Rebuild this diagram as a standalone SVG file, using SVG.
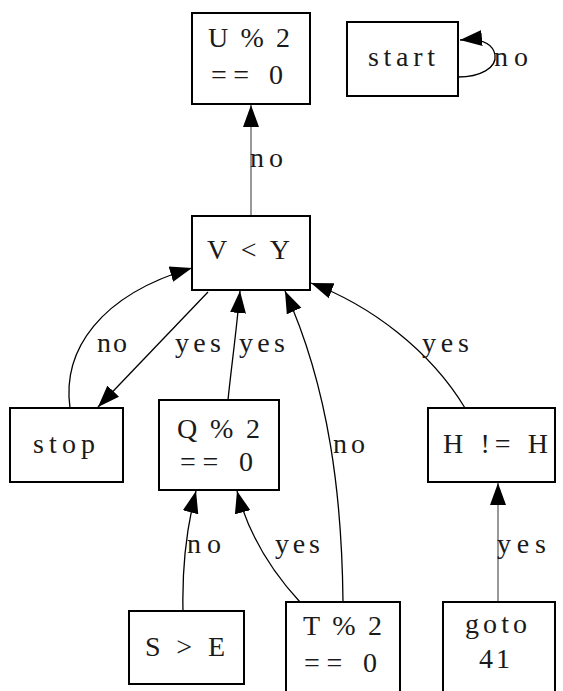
<svg xmlns="http://www.w3.org/2000/svg" width="563" height="691" viewBox="0 0 563 691">
<style>
.box{fill:#fff;stroke:#000;stroke-width:2}
.t{font-family:"Liberation Serif","Times New Roman",serif;font-size:28px;fill:#1a1a1a;text-anchor:middle}
.e{fill:none;stroke:#000;stroke-width:1.3}
.g{fill:none;stroke:#999;stroke-width:2}
</style>
<defs>
<marker id="ah" markerUnits="userSpaceOnUse" markerWidth="24" markerHeight="18" refX="22" refY="9" orient="auto" viewBox="0 0 24 18">
<path d="M0,1 L22,9 L0,17 z" fill="#000"/>
</marker>
</defs>
<rect x="0" y="0" width="563" height="691" fill="#fff"/>
<g id="edges">
<path class="g" d="M251,216 L251,105" marker-end="url(#ah)"/>
<text class="t" x="266.5" y="167" textLength="33" lengthAdjust="spacing">no</text>
<path class="e" d="M458,77 C480,77 497,68 495,55 C493,44 483,38 460,40" marker-end="url(#ah)"/>
<text class="t" x="511" y="66" textLength="34" lengthAdjust="spacing">no</text>
<path class="e" d="M70,408 C62,350 100,295 192,268" marker-end="url(#ah)"/>
<text class="t" x="112" y="352" textLength="30" lengthAdjust="spacing">no</text>
<path class="e" d="M208,292 L98,407" marker-end="url(#ah)"/>
<text class="t" x="198" y="352" textLength="46" lengthAdjust="spacing">yes</text>
<path class="e" d="M228,400 C231,370 236,335 240,291" marker-end="url(#ah)"/>
<text class="t" x="262" y="352" textLength="46" lengthAdjust="spacing">yes</text>
<path class="e" d="M343,602 C342,500 330,390 285,291" marker-end="url(#ah)"/>
<text class="t" x="349" y="453" textLength="32" lengthAdjust="spacing">no</text>
<path class="e" d="M465,408 C430,350 370,305 311,283" marker-end="url(#ah)"/>
<text class="t" x="445.5" y="352" textLength="47" lengthAdjust="spacing">yes</text>
<path class="e" d="M183,611 C182,570 186,530 196,491" marker-end="url(#ah)"/>
<text class="t" x="204" y="553" textLength="34" lengthAdjust="spacing">no</text>
<path class="e" d="M300,602 C275,575 250,540 237,491" marker-end="url(#ah)"/>
<text class="t" x="297.5" y="553" textLength="45" lengthAdjust="spacing">yes</text>
<path class="g" d="M498,602 L498,483" marker-end="url(#ah)"/>
<text class="t" x="521.5" y="553" textLength="49" lengthAdjust="spacing">yes</text>
</g>
<g id="U">
<rect class="box" x="192" y="13" width="118" height="91"/>
<text class="t" x="249" y="47" textLength="82" lengthAdjust="spacing">U % 2</text>
<text class="t" x="247" y="84" textLength="72" lengthAdjust="spacing">== 0</text>
</g>
<g id="start">
<rect class="box" x="347" y="22" width="111" height="74"/>
<text class="t" x="401.5" y="66" textLength="67" lengthAdjust="spacing">start</text>
</g>
<g id="V">
<rect class="box" x="192" y="216" width="118" height="74"/>
<text class="t" x="248.5" y="259" textLength="83" lengthAdjust="spacing">V &lt; Y</text>
</g>
<g id="stop">
<rect class="box" x="10" y="408" width="113" height="74"/>
<text class="t" x="64" y="453" textLength="62" lengthAdjust="spacing">stop</text>
</g>
<g id="Q">
<rect class="box" x="159" y="400" width="120" height="90"/>
<text class="t" x="218.5" y="438" textLength="83" lengthAdjust="spacing">Q % 2</text>
<text class="t" x="216.5" y="471" textLength="73" lengthAdjust="spacing">== 0</text>
</g>
<g id="H">
<rect class="box" x="428" y="408" width="127" height="74"/>
<text class="t" x="495.5" y="453" textLength="105" lengthAdjust="spacing">H != H</text>
</g>
<g id="S">
<rect class="box" x="129" y="611" width="115" height="73"/>
<text class="t" x="185" y="656" textLength="80" lengthAdjust="spacing">S &gt; E</text>
</g>
<g id="T">
<rect class="box" x="286" y="602" width="114" height="100"/>
<text class="t" x="342.5" y="635" textLength="79" lengthAdjust="spacing">T % 2</text>
<text class="t" x="340.5" y="672" textLength="73" lengthAdjust="spacing">== 0</text>
</g>
<g id="goto">
<rect class="box" x="443" y="602" width="112" height="100"/>
<text class="t" x="496" y="633" textLength="62" lengthAdjust="spacing">goto</text>
<text class="t" x="494.5" y="668" textLength="31" lengthAdjust="spacing">41</text>
</g>
</svg>
